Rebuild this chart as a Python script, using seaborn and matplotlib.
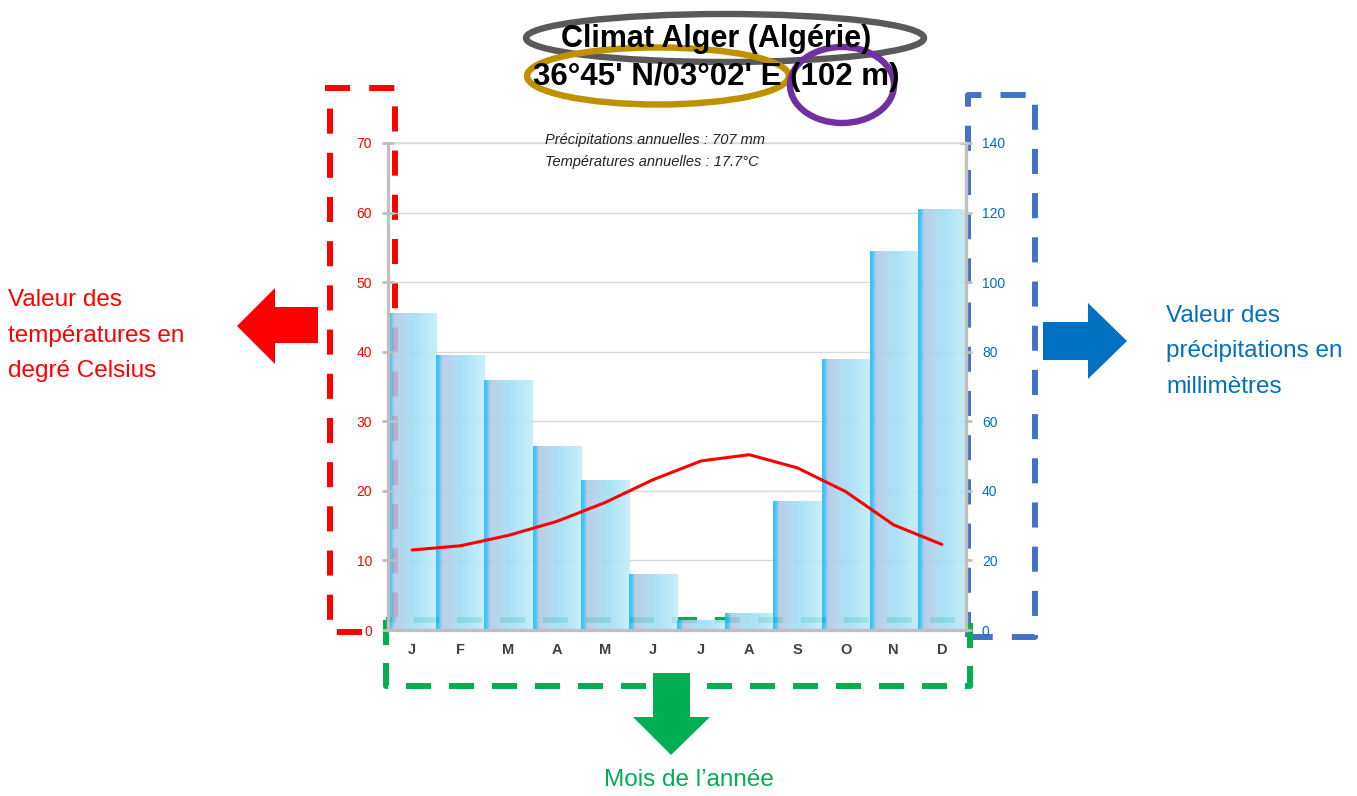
import numpy as np
import pandas as pd
import matplotlib
matplotlib.use("Agg")
import matplotlib.pyplot as plt
import seaborn as sns
from matplotlib.patches import Ellipse, Polygon
from matplotlib.lines import Line2D
from matplotlib.colors import LinearSegmentedColormap

# Climate data for Algiers
months = ["J", "F", "M", "A", "M", "J", "J", "A", "S", "O", "N", "D"]
precip_mm = [91, 79, 72, 53, 43, 16, 3, 5, 37, 78, 109, 121]
temp_c = [11.5, 12.1, 13.6, 15.6, 18.3, 21.6, 24.3, 25.2, 23.3, 19.9, 15.1, 12.3]
temp_ticks = [0, 10, 20, 30, 40, 50, 60, 70]
precip_ticks = [0, 20, 40, 60, 80, 100, 120, 140]

title_line1 = "Climat Alger (Algérie)"
title_line2 = "36°45' N/03°02' E (102 m)"
annual_precip = "Précipitations annuelles : 707 mm"
annual_temp = "Températures annuelles : 17.7°C"

sns.set_theme(style="white")
plt.rcParams["font.family"] = ["Liberation Sans", "DejaVu Sans"]

W, H = 1357, 796
fig = plt.figure(figsize=(W / 100, H / 100), dpi=100)
fig.patch.set_facecolor("white")


def fx(x):
    return x / W


def fy(y):
    return 1 - y / H


RED = "#ff0000"
BLUE_TXT = "#0070c0"
BLUE_BOX = "#4472c4"
GREEN = "#00b050"

# plot area
left, right, top, bottom = 388, 966, 143, 630
ax = fig.add_axes([fx(left), fy(bottom), fx(right) - fx(left), fy(top) - fy(bottom)])
ax.patch.set_visible(False)

df = pd.DataFrame({"idx": range(12), "precip": precip_mm, "temp": temp_c})

# precipitation bars
sns.barplot(data=df, x="idx", y="precip", ax=ax, width=1.0, color="#9ddff5",
            linewidth=0, zorder=2)
ax.set_xlim(-0.5, 11.5)
ax.set_ylim(0, 140)

grad_cmap = LinearSegmentedColormap.from_list(
    "bar", [(0.0, "#18bcff"), (0.06, "#30bff5"), (0.12, "#b3c6e4"),
            (0.35, "#a9d6ef"), (0.55, "#9ddff5"), (1.0, "#c4edf9")])
grad = np.linspace(0, 1, 256).reshape(1, -1)
for p in list(ax.patches):
    x0, w, h = p.get_x(), p.get_width(), p.get_height()
    p.set_facecolor("none")
    im = ax.imshow(grad, cmap=grad_cmap, extent=[x0, x0 + w, 0, h], aspect="auto",
                   alpha=0.88, zorder=2, interpolation="bilinear")
    im.set_clip_path(p)
ax.set_xlim(-0.5, 11.5)
ax.set_ylim(0, 140)

ax.set_xticks(range(12))
ax.set_xticklabels(months, fontweight="bold", color="#404040", fontsize=10.5)
ax.tick_params(axis="x", length=0, pad=9)
ax.set_xlabel("")
ax.set_ylabel("")
ax.grid(axis="y", color="#d9d9d9", linewidth=1)
ax.set_axisbelow(True)

for s in ["left", "right", "bottom"]:
    ax.spines[s].set_color("#bfbfbf")
    ax.spines[s].set_linewidth(2.4)
ax.spines["top"].set_color("#d9d9d9")
ax.spines["top"].set_linewidth(1.2)

# temperature line on the twin axis
ax2 = ax.twinx()
sns.lineplot(data=df, x="idx", y="temp", ax=ax2, color=RED, linewidth=2.2, zorder=5)
ax2.set_ylim(0, 70)
ax2.set_xlim(-0.5, 11.5)
ax2.set_yticks(temp_ticks)
ax2.yaxis.tick_left()
ax2.tick_params(axis="y", colors="#bfbfbf", labelcolor=RED, labelsize=10,
                direction="inout", length=9, width=2, pad=7)
ax2.set_ylabel("")
ax2.set_xlabel("")
for s in ax2.spines.values():
    s.set_visible(False)
ax2.grid(False)

# precipitation scale on the right
ax.set_yticks(precip_ticks)
ax.yaxis.tick_right()
ax.tick_params(axis="y", which="both", left=False, labelleft=False,
               right=True, labelright=True, colors="#bfbfbf",
               labelcolor=BLUE_TXT, labelsize=10,
               direction="inout", length=9, width=2, pad=7)

# annual summary
fig.text(fx(545), fy(140), annual_precip, fontsize=10.5, style="italic",
         color="#222222", va="center", ha="left")
fig.text(fx(545), fy(162), annual_temp, fontsize=10.5, style="italic",
         color="#222222", va="center", ha="left")

# title
fig.text(fx(716), fy(39), title_line1, fontsize=22, fontweight="bold",
         color="black", ha="center", va="center", zorder=6)
fig.text(fx(716), fy(77), title_line2, fontsize=22.5, fontweight="bold",
         color="black", ha="center", va="center", zorder=6)


def ellipse(cx, cy, w, h, color):
    fig.add_artist(Ellipse((fx(cx), fy(cy)), w / W, h / H, transform=fig.transFigure,
                           fill=False, edgecolor=color, linewidth=4.6, zorder=5))


ellipse(725, 38, 398, 48, "#595959")
ellipse(658, 76, 262, 57, "#bf9000")
ellipse(842, 85, 104, 76, "#7030a0")


# dashed frames around the axes
def dashed(xs, ys, color, dash):
    fig.add_artist(Line2D([fx(x) for x in xs], [fy(y) for y in ys],
                          transform=fig.transFigure, color=color, linewidth=4.3,
                          linestyle=(0, dash), zorder=-1, solid_capstyle="butt",
                          dash_capstyle="butt"))


dashed([362, 330, 330], [632, 632, 88], RED, (4.2, 3.2))
dashed([325, 395, 395], [88, 88, 632], RED, (4.2, 3.2))
dashed([968, 968, 1035, 1035, 968], [637, 95, 95, 637, 637], BLUE_BOX, (4.2, 3.2))
dashed([386, 386, 970, 970, 386], [620, 686, 686, 620, 620], GREEN, (4.2, 3.0))


def poly(pts, color):
    fig.add_artist(Polygon([(fx(x), fy(y)) for x, y in pts], closed=True,
                           transform=fig.transFigure, facecolor=color,
                           edgecolor="none", zorder=3))


# arrows
poly([(237, 326), (275, 288), (275, 307), (318, 307), (318, 343), (275, 343), (275, 364)], RED)
poly([(1127, 341), (1088, 303), (1088, 322), (1043, 322), (1043, 360), (1088, 360), (1088, 379)], BLUE_TXT)
poly([(671, 755), (633, 717), (653, 717), (653, 673), (690, 673), (690, 717), (710, 717)], GREEN)

# side captions
for i, line in enumerate(["Valeur des", "températures en", "degré Celsius"]):
    fig.text(fx(8), fy(300 + 35.5 * i), line, fontsize=17.5, color=RED,
             ha="left", va="center")
for i, line in enumerate(["Valeur des", "précipitations en", "millimètres"]):
    fig.text(fx(1166), fy(316 + 35.5 * i), line, fontsize=17.5, color=BLUE_TXT,
             ha="left", va="center")
fig.text(fx(689), fy(780), "Mois de l’année", fontsize=17.5, color=GREEN,
         ha="center", va="center")

fig.savefig("out.png", dpi=100, facecolor="white")
